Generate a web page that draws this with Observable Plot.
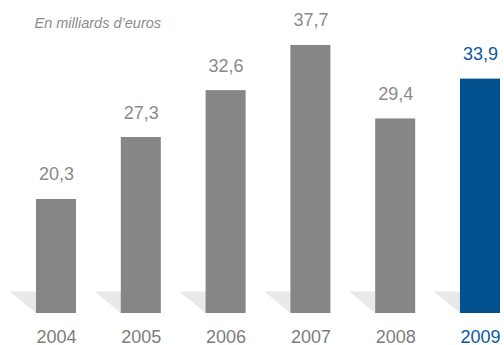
<!DOCTYPE html>
<html><head><meta charset="utf-8">
<script src="https://cdn.jsdelivr.net/npm/d3@7"></script>
<script src="https://cdn.jsdelivr.net/npm/@observablehq/plot@0.6"></script>
<style>body{margin:0;background:#fff;}</style>
</head><body><div id="chart"></div>
<script>
const years = ["2004", "2005", "2006", "2007", "2008", "2009"];
const values = [20.3, 27.3, 32.6, 37.7, 29.4, 33.9];
const valueLabels = ["20,3", "27,3", "32,6", "37,7", "29,4", "33,9"];
const highlightYear = "2009";
const subtitle = "En milliards d’euros";

const data = years.map((y, i) => ({year: y, value: values[i], label: valueLabels[i]}));

const gray = "#868686", blue = "#02508e";
const labelGray = "#8a8a8a", labelBlue = "#0b58a0";
const shadowSymbol = {draw(ctx) {ctx.moveTo(-46.5, -22); ctx.lineTo(-20, -22); ctx.lineTo(-20, 0); ctx.closePath();}};

const chart = Plot.plot({
  width: 504, height: 345,
  marginTop: 0, marginBottom: 32, marginLeft: 36, marginRight: 4,
  x: {domain: years, paddingInner: 0.528, paddingOuter: 0, round: false, axis: null},
  y: {domain: [7.42, 42.78], axis: null},
  style: {fontFamily: "'Liberation Sans', Arial, Helvetica, sans-serif", background: "#fff"},
  marks: [
    Plot.dot(data, {x: "year", frameAnchor: "bottom", symbol: shadowSymbol, fill: "#e9e9e9", stroke: "none"}),
    Plot.barY(data, {x: "year", y: "value", fill: d => d.year === highlightYear ? blue : gray, clip: true}),
    Plot.text(data, {x: "year", y: "value", text: "label", lineAnchor: "bottom", dy: -19, fontSize: 18,
      fill: d => d.year === highlightYear ? labelBlue : labelGray}),
    Plot.text(data, {x: "year", text: "year", frameAnchor: "bottom", lineAnchor: "bottom", dy: 29, fontSize: 18,
      fill: d => d.year === highlightYear ? labelBlue : "#7d7d7d"}),
    Plot.text([subtitle], {text: d => d, frameAnchor: "top-left", textAnchor: "start", lineAnchor: "bottom", dx: -2, dy: 27,
      fontSize: 14.5, fontStyle: "italic", fill: "#8c8c8c"})
  ]
});
document.getElementById("chart").appendChild(chart);
</script>
</body></html>
